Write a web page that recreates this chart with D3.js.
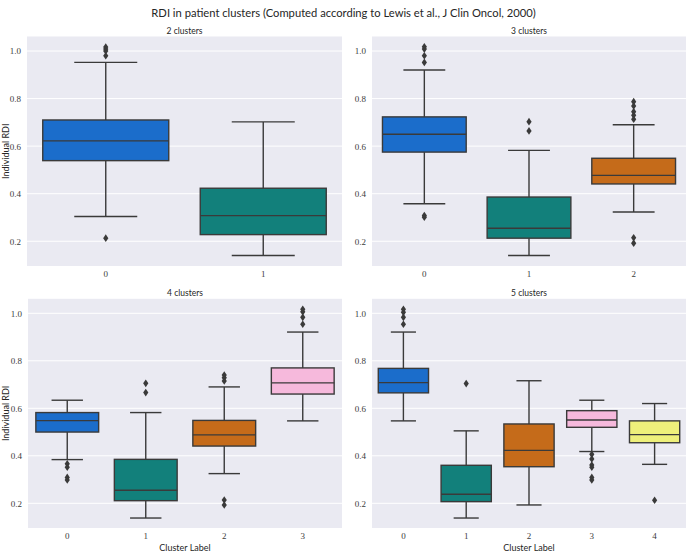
<!DOCTYPE html>
<html>
<head>
<meta charset="utf-8">
<script src="https://cdn.jsdelivr.net/npm/d3@7"></script>
<style>
  html, body { margin: 0; padding: 0; background: #ffffff; }
  svg { display: block; }
</style>
</head>
<body>
<svg id="chart" width="687" height="552"></svg>
<script>
// ---------------- DATA ----------------
const figTitle = "RDI in patient clusters (Computed according to Lewis et al., J Clin Oncol, 2000)";
const panelTitles = ["2 clusters", "3 clusters", "4 clusters", "5 clusters"];
const clusterLabels = [["0","1"], ["0","1","2"], ["0","1","2","3"], ["0","1","2","3","4"]];
const yTicks = [0.2, 0.4, 0.6, 0.8, 1.0];
const yLabel = "Individual RDI";
const xLabel = "Cluster Label";
const palette = ["#1b6dcb", "#12807b", "#c56b1a", "#f6b9dc", "#eef07b"];

const whiskerLow = [
  [0.304, 0.140],
  [0.358, 0.140, 0.323],
  [0.384, 0.138, 0.325, 0.547],
  [0.547, 0.138, 0.193, 0.418, 0.364]
];
const q1 = [
  [0.539, 0.228],
  [0.575, 0.213, 0.441],
  [0.500, 0.211, 0.441, 0.660],
  [0.665, 0.207, 0.354, 0.520, 0.455]
];
const median = [
  [0.622, 0.308],
  [0.650, 0.255, 0.477],
  [0.548, 0.255, 0.488, 0.707],
  [0.708, 0.238, 0.423, 0.551, 0.489]
];
const q3 = [
  [0.710, 0.423],
  [0.723, 0.386, 0.549],
  [0.582, 0.385, 0.549, 0.770],
  [0.768, 0.360, 0.534, 0.590, 0.547]
];
const whiskerHigh = [
  [0.952, 0.702],
  [0.920, 0.582, 0.690],
  [0.634, 0.582, 0.690, 0.921],
  [0.921, 0.505, 0.716, 0.634, 0.620]
];
const outliers = [
  [[1.017, 1.008, 1.0, 0.98, 0.213], []],
  [[1.018, 1.008, 0.98, 0.952, 0.308, 0.301], [0.703, 0.664], [0.787, 0.769, 0.745, 0.73, 0.713, 0.215, 0.192]],
  [[0.366, 0.352, 0.309, 0.298], [0.705, 0.666], [0.740, 0.729, 0.715, 0.214, 0.193], [1.017, 1.006, 0.983, 0.954]],
  [[1.017, 1.004, 0.983, 0.954], [0.704], [], [0.406, 0.387, 0.361, 0.352, 0.309, 0.298], [0.213]]
];
const yDomain = [0.096, 1.061];

// ---------------- LAYOUT ----------------
const panels = [
  {x0: 27, x1: 342, y0: 36.5, y1: 266},
  {x0: 372, x1: 686, y0: 36.5, y1: 266},
  {x0: 28, x1: 342, y0: 298.8, y1: 528},
  {x0: 372, x1: 686, y0: 298.8, y1: 528}
];

const svg = d3.select("#chart");
const lineColor = "#3a3a3a";
const sansFont = "Lato, 'Open Sans', 'DejaVu Sans', sans-serif";
const serifFont = "'Liberation Serif', 'DejaVu Serif', serif";

svg.append("text")
  .attr("x", 343.5).attr("y", 16.5)
  .attr("text-anchor", "middle")
  .attr("font-family", sansFont)
  .attr("font-size", 11.2)
  .attr("fill", "#262626")
  .text(figTitle);

panels.forEach((p, i) => {
  const cats = clusterLabels[i];
  const x = d3.scaleBand().domain(cats).range([p.x0, p.x1]).paddingInner(0).paddingOuter(0);
  const y = d3.scaleLinear().domain(yDomain).range([p.y1, p.y0]);
  const g = svg.append("g");

  g.append("rect")
    .attr("x", p.x0).attr("y", p.y0)
    .attr("width", p.x1 - p.x0).attr("height", p.y1 - p.y0)
    .attr("fill", "#eaeaf2");

  // grid
  g.selectAll(".grid").data(yTicks).enter().append("line")
    .attr("x1", p.x0).attr("x2", p.x1)
    .attr("y1", d => y(d)).attr("y2", d => y(d))
    .attr("stroke", "#ffffff").attr("stroke-width", 1);

  // y axis
  const yAxis = d3.axisLeft(y).tickValues(yTicks).tickFormat(d3.format(".1f")).tickSize(0).tickPadding(6);
  const ya = g.append("g").attr("transform", `translate(${p.x0},0)`).call(yAxis);
  ya.select(".domain").remove();
  ya.selectAll("text").attr("font-family", serifFont).attr("font-size", 9).attr("fill", "#3c3c3c");

  // x axis
  const xAxis = d3.axisBottom(x).tickSize(0).tickPadding(5);
  const xa = g.append("g").attr("transform", `translate(0,${p.y1})`).call(xAxis);
  xa.select(".domain").remove();
  xa.selectAll("text").attr("font-family", serifFont).attr("font-size", 9).attr("fill", "#3c3c3c");

  // subplot title
  g.append("text")
    .attr("x", (p.x0 + p.x1) / 2).attr("y", p.y0 - 3)
    .attr("text-anchor", "middle")
    .attr("font-family", sansFont).attr("font-size", 8.5).attr("fill", "#262626")
    .text(panelTitles[i]);

  if (i % 2 === 0) {
    g.append("text")
      .attr("transform", `translate(9,${(p.y0 + p.y1) / 2}) rotate(-90)`)
      .attr("text-anchor", "middle")
      .attr("font-family", sansFont).attr("font-size", 9).attr("fill", "#262626")
      .text(yLabel);
  }
  if (i >= 2) {
    g.append("text")
      .attr("x", (p.x0 + p.x1) / 2).attr("y", 550.5)
      .attr("text-anchor", "middle")
      .attr("font-family", sansFont).attr("font-size", 9).attr("fill", "#262626")
      .text(xLabel);
  }

  const bw = x.bandwidth() * 0.8;
  cats.forEach((c, j) => {
    const cx = x(c) + x.bandwidth() / 2;
    const bg = g.append("g");
    // whiskers
    bg.append("line")
      .attr("x1", cx).attr("x2", cx)
      .attr("y1", y(q3[i][j])).attr("y2", y(whiskerHigh[i][j]))
      .attr("stroke", lineColor).attr("stroke-width", 1.4);
    bg.append("line")
      .attr("x1", cx).attr("x2", cx)
      .attr("y1", y(q1[i][j])).attr("y2", y(whiskerLow[i][j]))
      .attr("stroke", lineColor).attr("stroke-width", 1.4);
    [whiskerHigh[i][j], whiskerLow[i][j]].forEach(v => {
      bg.append("line")
        .attr("x1", cx - bw / 4).attr("x2", cx + bw / 4)
        .attr("y1", y(v)).attr("y2", y(v))
        .attr("stroke", lineColor).attr("stroke-width", 1.4);
    });
    // box
    bg.append("rect")
      .attr("x", cx - bw / 2).attr("width", bw)
      .attr("y", y(q3[i][j])).attr("height", y(q1[i][j]) - y(q3[i][j]))
      .attr("fill", palette[j]).attr("stroke", lineColor).attr("stroke-width", 1.4);
    // median
    bg.append("line")
      .attr("x1", cx - bw / 2).attr("x2", cx + bw / 2)
      .attr("y1", y(median[i][j])).attr("y2", y(median[i][j]))
      .attr("stroke", lineColor).attr("stroke-width", 1.4);
    // outliers (thin diamonds)
    bg.selectAll(".out").data(outliers[i][j]).enter().append("path")
      .attr("d", d => {
        const yy = y(d);
        return `M${cx},${yy - 3.8}L${cx + 2.6},${yy}L${cx},${yy + 3.8}L${cx - 2.6},${yy}Z`;
      })
      .attr("fill", lineColor);
  });
});
</script>
</body>
</html>
